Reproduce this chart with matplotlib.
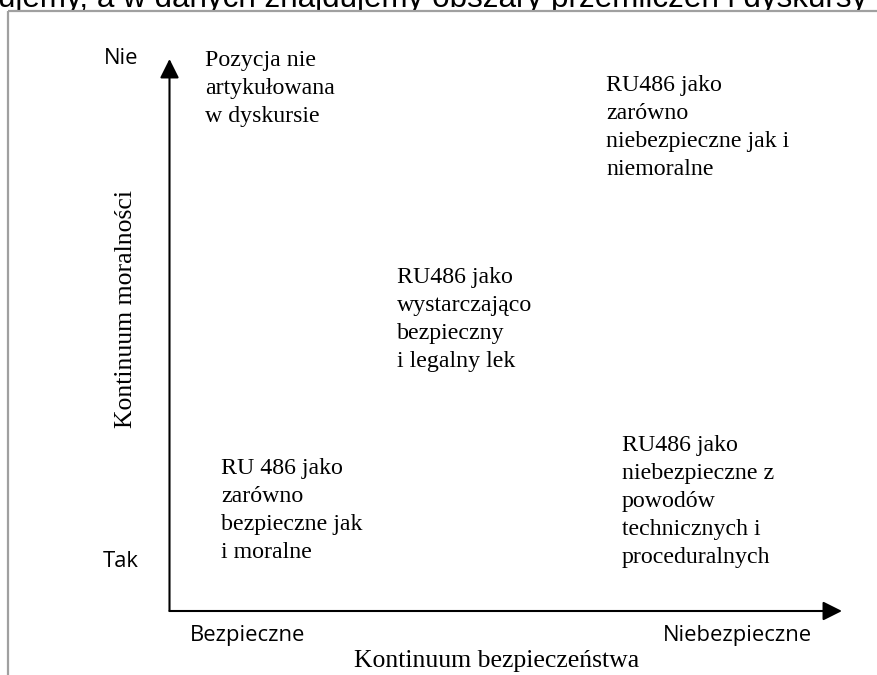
import matplotlib
matplotlib.use("Agg")
import matplotlib.pyplot as plt

# ---- data ----
quadrant_labels = [
    "Pozycja nie\nartykułowana\nw dyskursie",
    "RU486 jako\nzarówno\nniebezpieczne jak i\nniemoralne",
    "RU486 jako\nwystarczająco\nbezpieczny\ni legalny lek",
    "RU 486 jako\nzarówno\nbezpieczne jak\ni moralne",
    "RU486 jako\nniebezpieczne z\npowodów\ntechnicznych i\nproceduralnych",
]
# position on the safety continuum (x) and morality continuum (y), 0..1
safety_pos = [0.053, 0.649, 0.338, 0.077, 0.673]
morality_pos = [1.016, 0.971, 0.623, 0.277, 0.319]

x_ticks = ["Bezpieczne", "Niebezpieczne"]
y_ticks = ["Tak", "Nie"]
x_title = "Kontinuum bezpieczeństwa"
y_title = "Kontinuum moralności"
page_text = "ujemy, a w danych znajdujemy obszary przemilczeń i dyskursy"

W, H = 878, 675
fig = plt.figure(figsize=(W / 100, H / 100), dpi=100)

# background axes in pixel coordinates (page frame + cut-off page text)
bg = fig.add_axes([0, 0, 1, 1])
bg.set_xlim(0, W)
bg.set_ylim(H, 0)
bg.axis("off")
bg.text(-2, 7.5, page_text, fontsize=22.6, family="Liberation Sans",
        va="baseline", ha="left", color="black", zorder=1)
bg.add_patch(plt.Rectangle((8, 10.5), W, H, facecolor="white",
                           edgecolor="none", zorder=2))
bg.plot([8, W], [10.5, 10.5], color="#a0a0a0", lw=1.6, zorder=3,
        solid_capstyle="butt")
bg.plot([8, 8], [10.5, H], color="#a0a0a0", lw=1.6, zorder=3,
        solid_capstyle="butt")

# main diagram axes: origin at the arrows' corner
x0, y0, x1, y1 = 169.5, 611, 842, 59
ax = fig.add_axes([x0 / W, (H - y0) / H, (x1 - x0) / W, (y0 - y1) / H])
ax.set_xlim(0, 1)
ax.set_ylim(0, 1)
ax.axis("off")
ax.patch.set_alpha(0)

arrow_kw = dict(arrowstyle="-|>,head_length=0.58,head_width=0.29",
                mutation_scale=20, lw=1.5, color="black",
                shrinkA=0, shrinkB=0)
ax.annotate("", xy=(1, 0), xytext=(0, 0), xycoords="data",
            arrowprops=arrow_kw, annotation_clip=False)
ax.annotate("", xy=(0, 1), xytext=(0, 0), xycoords="data",
            arrowprops=arrow_kw, annotation_clip=False)

serif = "Liberation Serif"
sans = "Open Sans"

for lab, sx, my in zip(quadrant_labels, safety_pos, morality_pos):
    ax.text(sx, my, lab, family=serif, fontsize=17.2, ha="left", va="top",
            linespacing=1.44, clip_on=False)

# continuum end labels
ax.text(0.03, -0.045, x_ticks[0], family=sans, fontsize=15.8,
        ha="left", va="center", clip_on=False)
ax.text(0.845, -0.045, x_ticks[1], family=sans, fontsize=15.8,
        ha="center", va="center", clip_on=False)
ax.text(-0.072, 0.09, y_ticks[0], family=sans, fontsize=15.8,
        ha="center", va="center", clip_on=False)
ax.text(-0.072, 1.0, y_ticks[1], family=sans, fontsize=15.8,
        ha="center", va="center", clip_on=False)

ax.text(0.487, -0.091, x_title, family=serif, fontsize=18.5,
        ha="center", va="center", clip_on=False)
ax.text(-0.065, 0.547, y_title, family=serif, fontsize=18.5, rotation=90,
        ha="center", va="center", clip_on=False)

fig.savefig("out.png", dpi=100)
